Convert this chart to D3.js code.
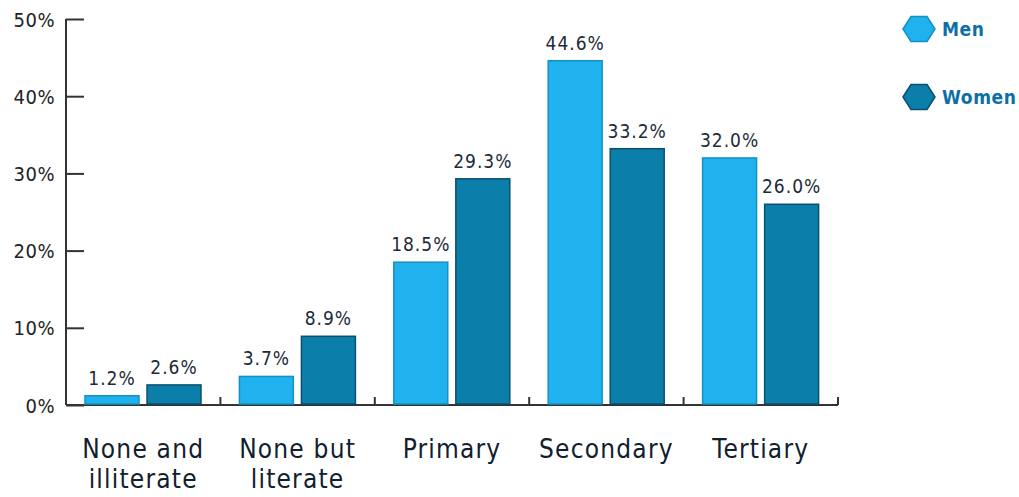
<!DOCTYPE html>
<html><head><meta charset="utf-8">
<script src="https://cdn.jsdelivr.net/npm/d3@7"></script>
<style>body{margin:0;background:#fff}</style>
</head><body>
<svg id="c" width="1019" height="497"></svg>
<script>
const categories = [["None and","illiterate"],["None but","literate"],["Primary"],["Secondary"],["Tertiary"]];
const series = ["Men","Women"];
const menValues = [1.2, 3.7, 18.5, 44.6, 32.0];
const womenValues = [2.6, 8.9, 29.3, 33.2, 26.0];
const yTicks = [0,10,20,30,40,50];

const colors = {Men:"#1fb2ee", Women:"#0b7eaa"};
const strokes = {Men:"#1590c4", Women:"#0a4f70"};

const svg = d3.select("#c");
const font = "'DejaVu Sans Condensed','DejaVu Sans',sans-serif";
const x0 = d3.scaleBand().domain(d3.range(categories.length)).range([66,838]).paddingInner(0).paddingOuter(0);
const x1 = d3.scaleBand().domain(series).range([19,135]).paddingInner(0.13);
const y = d3.scaleLinear().domain([0,50]).range([405,19]);

// y axis
const ya = svg.append("g").attr("transform","translate(66,0)")
  .call(d3.axisRight(y).tickValues(yTicks).tickSize(18).tickFormat(d=>d+"%"));
ya.select(".domain").attr("d","M0,405V19").attr("stroke","#333").attr("stroke-width",2);
ya.selectAll(".tick line").attr("stroke","#333").attr("stroke-width",2);
ya.selectAll(".tick text").attr("x",-11).attr("text-anchor","end").attr("dy","0.35em")
  .attr("font-family",font).attr("font-size",20).attr("letter-spacing",0.5).attr("fill","#222");

// x axis
const xa = svg.append("g").attr("transform","translate(0,405)");
xa.append("line").attr("x1",66).attr("x2",838).attr("stroke","#333").attr("stroke-width",2);
xa.selectAll("line.t").data(d3.range(1,categories.length+1)).enter().append("line")
  .attr("x1",i=>x0.step()*i+66).attr("x2",i=>x0.step()*i+66).attr("y1",0).attr("y2",-8)
  .attr("stroke","#333").attr("stroke-width",2);
const cl = xa.selectAll("text.c").data(categories).enter().append("text")
  .attr("x",(d,i)=>x0(i)+x0.bandwidth()/2).attr("y",53)
  .attr("text-anchor","middle").attr("font-family",font).attr("font-size",26).attr("letter-spacing",1.2).attr("fill","#10202e");
cl.selectAll("tspan").data(d=>d).enter().append("tspan")
  .attr("x",function(){return this.parentNode.getAttribute("x");})
  .attr("dy",(d,i)=>i? 30:0).text(d=>d);

// bars
const data = categories.map((c,i)=>({i, vals:[{s:"Men",v:menValues[i]},{s:"Women",v:womenValues[i]}]}));
const g = svg.selectAll("g.cat").data(data).enter().append("g").attr("transform",d=>`translate(${x0(d.i)},0)`);
g.selectAll("rect").data(d=>d.vals).enter().append("rect")
  .attr("x",d=>x1(d.s)).attr("width",x1.bandwidth())
  .attr("y",d=>y(d.v)).attr("height",d=>y(0)-y(d.v)-1)
  .attr("fill",d=>colors[d.s]).attr("stroke",d=>strokes[d.s]).attr("stroke-width",1.5);
g.selectAll("text").data(d=>d.vals).enter().append("text")
  .attr("x",d=>x1(d.s)+x1.bandwidth()/2).attr("y",d=>y(d.v)-11)
  .attr("text-anchor","middle").attr("font-family",font).attr("font-size",19).attr("letter-spacing",1).attr("fill","#1c2b38")
  .text(d=>d.v.toFixed(1)+"%");

// legend
const hex = (cx,cy,r)=>{const h=r*0.78;return `M${cx-r},${cy}L${cx-r/2},${cy-h}L${cx+r/2},${cy-h}L${cx+r},${cy}L${cx+r/2},${cy+h}L${cx-r/2},${cy+h}Z`;};
const lg = svg.selectAll("g.lg").data(series).enter().append("g");
lg.append("path").attr("d",(d,i)=>hex(919,29+i*68,16)).attr("fill",d=>colors[d]).attr("stroke",d=>strokes[d]).attr("stroke-width",1.5);
lg.append("text").attr("x",942).attr("y",(d,i)=>29+i*68).attr("dy","0.35em")
  .attr("font-family",font).attr("font-size",19).attr("font-weight","bold").attr("letter-spacing",0.6).attr("fill","#0d6fa3").text(d=>d);
</script>
</body></html>
